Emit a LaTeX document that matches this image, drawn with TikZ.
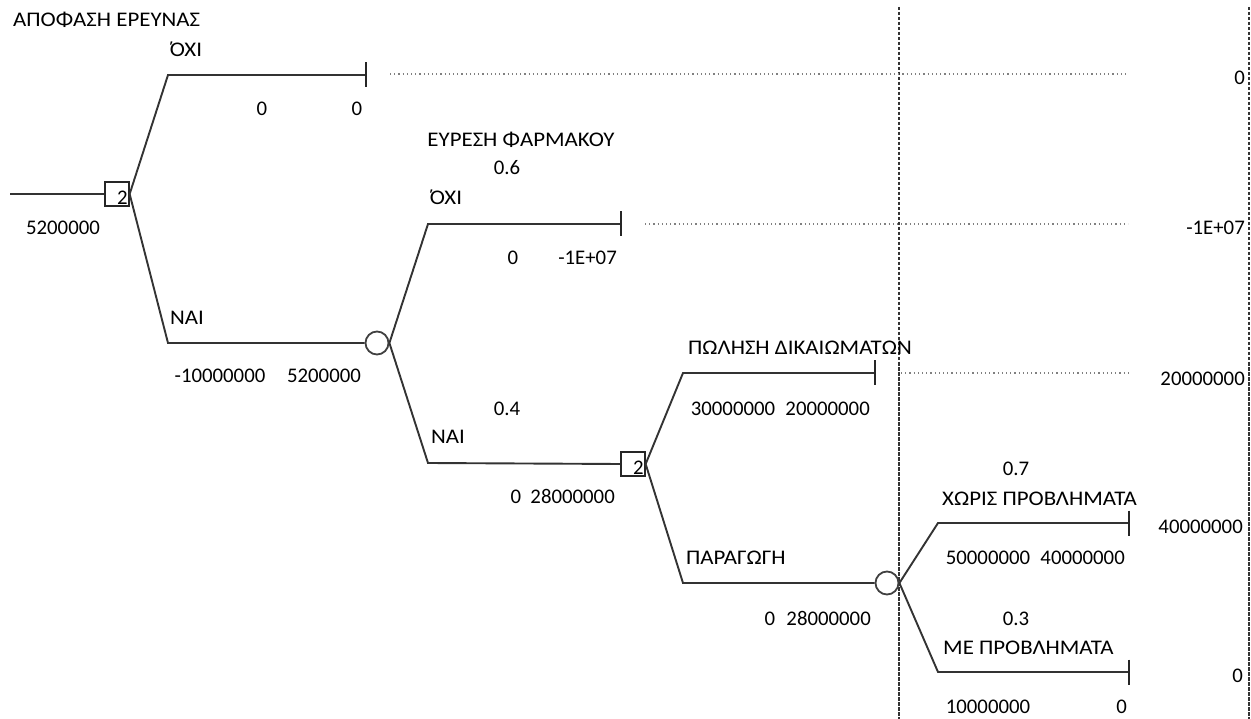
\documentclass[tikz,border=0pt]{standalone}
\usepackage{fontspec}
\setmainfont{Carlito}
\newfontfamily\greekwide[FakeStretch=1.1]{Carlito}
% capital omicron with tonos, built from its parts
\newcommand{\OmicronTonos}{\char"0384\kern-4.5pt Ο}
\tikzset{
    every node/.style={font=\fontsize{20.8}{24}\selectfont, inner sep=0pt},
    decision/.style={draw=black!85, rectangle, line width=1.8pt, minimum size=23.5pt, fill=white},
    chance/.style={draw=black!75, circle, line width=1.8pt, minimum size=23pt, fill=white},
    boxnum/.style={anchor=south east, inner sep=1.8pt},
    branch/.style={line width=1.9pt, black!80},
    endtick/.style={line width=1.9pt, black!85},
    guide/.style={gray, line width=1.1pt, dash pattern=on 1.2pt off 3pt},
    divider/.style={line width=1.5pt, dash pattern=on 3.5pt off 1.5pt, black!80},
    lbl/.style={anchor=base west, font=\fontsize{20.8}{24}\greekwide},
    heading/.style={anchor=base, font=\fontsize{20.8}{24}\greekwide},
    val/.style={anchor=base},
    res/.style={anchor=base east}
}
\begin{document}
\begin{tikzpicture}[x=1pt, y=-1pt]
\useasboundingbox (0,0) rectangle (1251,719);

% vertical separators
\coordinate (sepAtop) at (899,7);
\coordinate (sepAbot) at (899,719);
\coordinate (sepBtop) at (1249,7);
\coordinate (sepBbot) at (1249,719);
\draw[divider] (sepAtop) -- (sepAbot);
\draw[divider] (sepBtop) -- (sepBbot);

% nodes of the tree
\coordinate (root) at (10,194);
\node[decision] (research) at (117,194) {};
\node[chance] (discover) at (377,343) {};
\node[decision] (exploit) at (633,464) {};
\node[chance] (produce) at (887,583) {};

% corners and leaves
\coordinate (noA) at (168,75);   \coordinate (noAend) at (366,75);
\coordinate (yesA) at (168,343);
\coordinate (noB) at (428,224);  \coordinate (noBend) at (621,224);
\coordinate (yesB) at (428,463);
\coordinate (sell) at (683,373); \coordinate (sellend) at (875,373);
\coordinate (make) at (683,583);
\coordinate (okC) at (938,523);  \coordinate (okCend) at (1129,523);
\coordinate (badC) at (938,672); \coordinate (badCend) at (1129,672);

% branches
\draw[branch] (root) -- (research.west);
\draw[branch] (research.east) -- (noA) -- (noAend);
\draw[branch] (research.east) -- (yesA) -- (discover.west);
\draw[branch] (discover.east) -- (noB) -- (noBend);
\draw[branch] (discover.east) -- (yesB) -- (exploit.west);
\draw[branch] (exploit.east) -- (sell) -- (sellend);
\draw[branch] (exploit.east) -- (make) -- (produce.west);
\draw[branch] (produce.east) -- (okC) -- (okCend);
\draw[branch] (produce.east) -- (badC) -- (badCend);

% end points
\foreach \t in {noAend,noBend,sellend,okCend,badCend}
    \draw[endtick] (\t) ++(0,-12.5) -- ++(0,25);

% dotted leaders to the payoffs
\coordinate (gA) at (390,74);   \coordinate (gAend) at (1128,74);
\coordinate (gB) at (645,224);  \coordinate (gBend) at (1128,224);
\coordinate (gC) at (901,373);  \coordinate (gCend) at (1128,373);
\draw[guide] (gA) -- (gAend);
\draw[guide] (gB) -- (gBend);
\draw[guide] (gC) -- (gCend);

% numbers in the decision boxes
\node[boxnum] (researchnum) at (research.south east) {2};
\node[boxnum] (exploitnum) at (exploit.south east) {2};

% branch names and probabilities
\node[lbl] (title) at (13,27) {ΑΠΟΦΑΣΗ ΕΡΕΥΝΑΣ};
\node[lbl] (noAlbl) at (167,57) {\OmicronTonos ΧΙ};
\node[lbl] (yesAlbl) at (170,325) {ΝΑΙ};
\node[heading] (chanceB) at (521,147) {ΕΥΡΕΣΗ ΦΑΡΜΑΚΟΥ};
\node[val] (pnoB) at (507,175) {0.6};
\node[lbl] (noBlbl) at (427,205) {\OmicronTonos ΧΙ};
\node[val] (pyesB) at (507,415) {0.4};
\node[lbl] (yesBlbl) at (431,443) {ΝΑΙ};
\node[lbl] (selllbl) at (688,355) {ΠΩΛΗΣΗ ΔΙΚΑΙΩΜΑΤΩΝ};
\node[lbl] (makelbl) at (686,564) {ΠΑΡΑΓΩΓΗ};
\node[val] (pokC) at (1016,475) {0.7};
\node[lbl] (oklbl) at (942,505) {ΧΩΡΙΣ ΠΡΟΒΛΗΜΑΤΑ};
\node[val] (pbadC) at (1016,625) {0.3};
\node[lbl] (badlbl) at (943,654) {ΜΕ ΠΡΟΒΛΗΜΑΤΑ};

% cash flow and rolled back values
\node[val] (rootval) at (63,235) {5200000};
\node[val] (noAcash) at (262,116) {0};
\node[val] (noAroll) at (357,116) {0};
\node[val] (yesAcash) at (220,383) {-10000000};
\node[val] (yesAroll) at (324,383) {5200000};
\node[val] (noBcash) at (513,265) {0};
\node[res] (noBroll) at (617,265) {-1E+07};
\node[val] (yesBcash) at (516,503) {0};
\node[res] (yesBroll) at (615,503) {28000000};
\node[val] (sellcash) at (733,415) {30000000};
\node[res] (sellroll) at (870,415) {20000000};
\node[val] (makecash) at (770,625) {0};
\node[res] (makeroll) at (871,625) {28000000};
\node[val] (okcash) at (988,564) {50000000};
\node[res] (okroll) at (1125,564) {40000000};
\node[val] (badcash) at (988,713) {10000000};
\node[res] (badroll) at (1127,713) {0};

% payoffs
\node[res] (payA) at (1245,85) {0};
\node[res] (payB) at (1245,235) {-1E+07};
\node[res] (payC) at (1245,385) {20000000};
\node[res] (payD) at (1243,533) {40000000};
\node[res] (payE) at (1243,682) {0};

\end{tikzpicture}
\end{document}
